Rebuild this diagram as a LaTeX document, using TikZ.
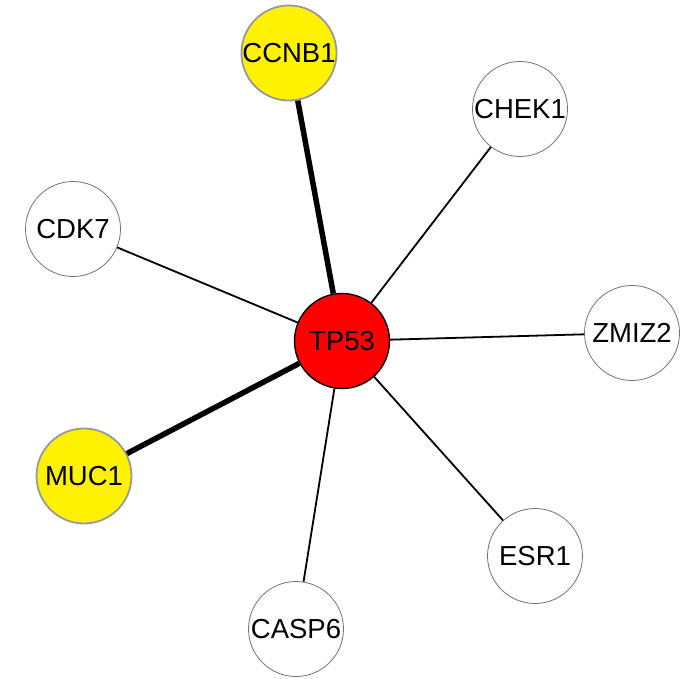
\documentclass[tikz,border=0pt]{standalone}
\usepackage{fontspec}
\setmainfont{Liberation Sans}
\begin{document}
\begin{tikzpicture}[x=1pt,y=-1pt,
  gene/.style={circle, minimum size=95pt, inner sep=0pt, fill=white,
    draw=black!55, line width=0.8pt, font=\fontsize{27.5}{27.5}\selectfont},
  hit/.style={gene, fill=yellow, draw=black!40, line width=1.8pt},
  hub/.style={gene, fill=red, draw=black, line width=1.4pt},
  link/.style={line width=1.8pt},
  strong/.style={line width=5.5pt}]
\useasboundingbox (0,0) rectangle (682,679);
\node[hub] (tp53) at (342,341) {TP53};
\node[hit] (ccnb1) at (289,53) {CCNB1};
\node[gene] (chek1) at (520,109) {CHEK1};
\node[gene] (cdk7) at (73,229) {CDK7};
\node[gene] (zmiz2) at (632,333) {ZMIZ2};
\node[hit] (muc1) at (84,476) {MUC1};
\node[gene] (esr1) at (535,556) {ESR1};
\node[gene] (casp6) at (296,629) {CASP6};
\draw[strong] (tp53) -- (ccnb1);
\draw[strong] (tp53) -- (muc1);
\draw[link] (tp53) -- (chek1);
\draw[link] (tp53) -- (cdk7);
\draw[link] (tp53) -- (zmiz2);
\draw[link] (tp53) -- (esr1);
\draw[link] (tp53) -- (casp6);
\end{tikzpicture}
\end{document}
